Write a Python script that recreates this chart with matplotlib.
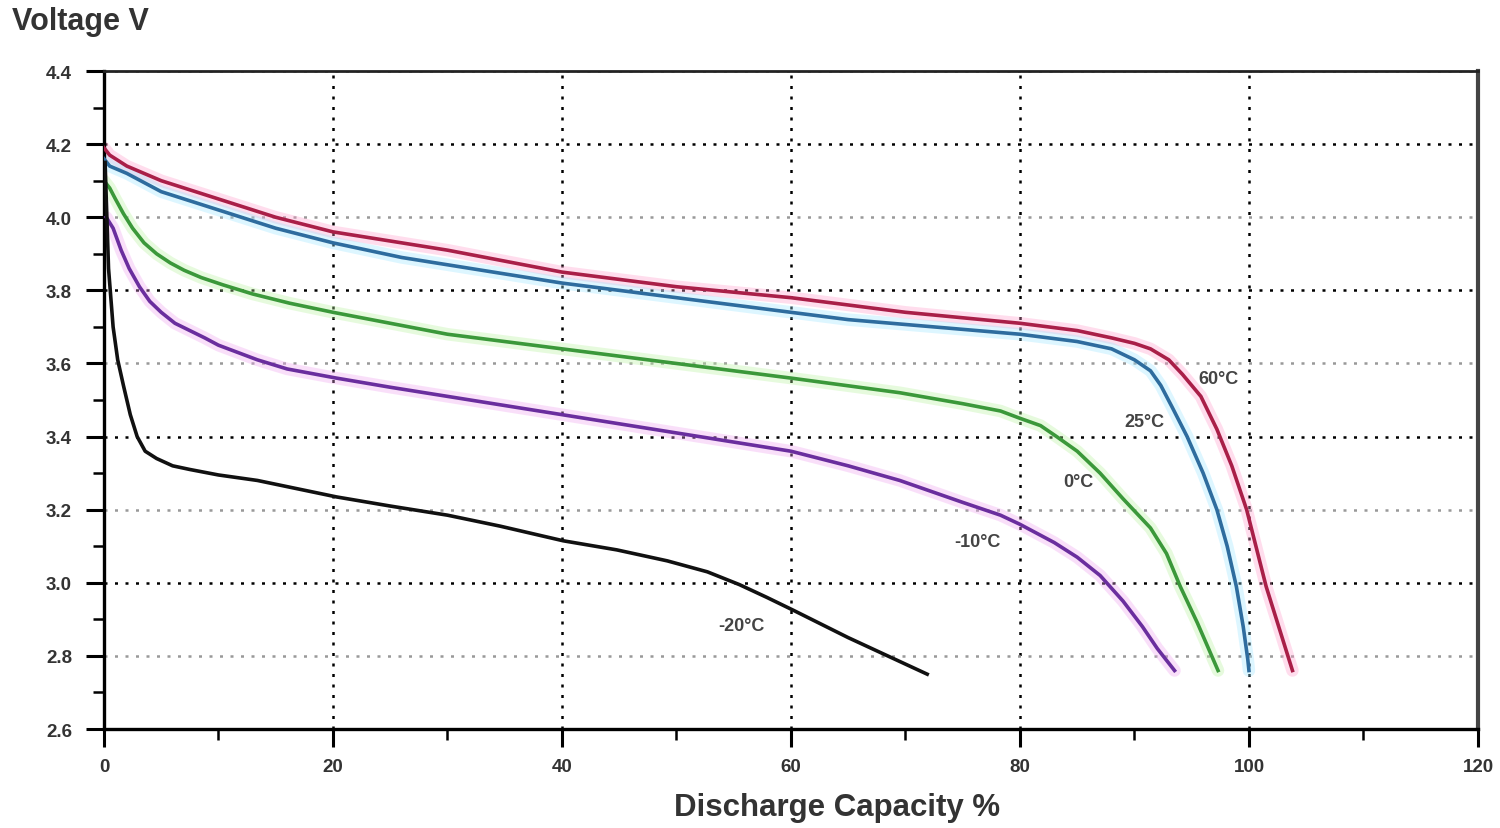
import matplotlib
matplotlib.use('Agg')
import matplotlib.pyplot as plt
from matplotlib.ticker import MultipleLocator, FormatStrFormatter

plt.rcParams['font.family'] = ['Liberation Sans', 'DejaVu Sans']
plt.rcParams['font.weight'] = 'bold'

# discharge curves: capacity %, voltage V
x_60 = [0, 0.5, 2, 5, 10, 15, 20, 26, 30, 40, 50, 60, 65, 70, 80, 85, 88, 90, 91.4, 93,
        94.2, 95.8, 97.2, 98.5, 99.8, 101.5, 103.8]
v_60 = [4.19, 4.17, 4.14, 4.10, 4.05, 4.00, 3.96, 3.93, 3.91, 3.85, 3.81, 3.78, 3.76, 3.74,
        3.71, 3.69, 3.67, 3.655, 3.64, 3.61, 3.57, 3.51, 3.42, 3.32, 3.20, 2.99, 2.76]

x_25 = [0, 0.5, 2, 5, 10, 15, 20, 26, 40, 50, 60, 65, 80, 85, 88, 90, 91.4, 92.3, 93.3,
        94.6, 96, 97.2, 98.1, 98.9, 99.5, 99.9, 100]
v_25 = [4.16, 4.14, 4.12, 4.07, 4.02, 3.97, 3.93, 3.89, 3.82, 3.78, 3.74, 3.72, 3.68, 3.66,
        3.64, 3.61, 3.58, 3.54, 3.48, 3.40, 3.30, 3.20, 3.10, 2.99, 2.88, 2.79, 2.76]

x_0 = [0, 0.5, 1, 1.7, 2.5, 3.5, 4.6, 5.8, 7, 8.5, 10.4, 13, 16.2, 20, 25, 30, 40, 50, 60,
       69.5, 75, 78.3, 80, 81.8, 83.2, 85, 87, 89, 91.4, 92.8, 94, 95.5, 97.3]
v_0 = [4.10, 4.08, 4.05, 4.01, 3.97, 3.93, 3.90, 3.875, 3.855, 3.835, 3.815, 3.79, 3.765,
       3.74, 3.71, 3.68, 3.64, 3.60, 3.56, 3.52, 3.49, 3.47, 3.45, 3.43, 3.40, 3.36, 3.30,
       3.23, 3.15, 3.08, 2.99, 2.89, 2.76]

x_m10 = [0.2, 0.8, 1.5, 2.2, 3.1, 4, 5, 6.2, 7.5, 8.8, 10, 11.7, 13.4, 16, 20.3, 25, 30, 40,
         50, 60, 65, 69.5, 75, 78.3, 80, 83, 85, 87, 89, 90.7, 92, 93.5]
v_m10 = [4.00, 3.97, 3.91, 3.86, 3.81, 3.77, 3.74, 3.71, 3.69, 3.67, 3.65, 3.63, 3.61,
         3.585, 3.56, 3.535, 3.51, 3.46, 3.41, 3.36, 3.32, 3.28, 3.22, 3.185, 3.16, 3.11,
         3.07, 3.02, 2.95, 2.88, 2.82, 2.76]

x_m20 = [0.1, 0.4, 0.8, 1.2, 1.7, 2.3, 2.9, 3.6, 4.6, 6, 7.5, 10, 13.4, 20.3, 25, 30, 34.6,
         40.1, 44.8, 49.2, 52.7, 55.5, 57.9, 60.2, 65, 71.9]
v_m20 = [4.15, 3.86, 3.70, 3.61, 3.54, 3.46, 3.40, 3.36, 3.34, 3.32, 3.31, 3.295, 3.28, 3.235,
         3.21, 3.185, 3.155, 3.115, 3.09, 3.06, 3.03, 2.995, 2.96, 2.925, 2.85, 2.75]

labels = ['60°C', '25°C', '0°C', '-10°C', '-20°C']
series = [(x_60, v_60), (x_25, v_25), (x_0, v_0), (x_m10, v_m10), (x_m20, v_m20)]

colors = ['#a91f48', '#2e6c9e', '#3b983a', '#6a2e9e', '#111111']
halos = ['#ff9fcc', '#9fe6ff', '#b9f2a0', '#f0a6f0', None]
label_pos = [(97.3, 3.558), (90.9, 3.44), (85.1, 3.276), (76.3, 3.114), (55.7, 2.882)]

fig = plt.figure(figsize=(15, 8.29), dpi=100)
ax = fig.add_axes([0.0693, 0.1194, 0.9160, 0.7937])

for (xs, vs), c, h in zip(series, colors, halos):
    if h:
        ax.plot(xs, vs, color=h, lw=9, alpha=0.35, solid_capstyle='round',
                solid_joinstyle='round', zorder=2)
    ax.plot(xs, vs, color=c, lw=2.6, solid_joinstyle='round', zorder=3)

for text, (lx, ly) in zip(labels, label_pos):
    ax.text(lx, ly, text, fontsize=13, fontweight='bold', color='#444444',
            ha='center', va='center', zorder=4)

ax.set_xlim(0, 120)
ax.set_ylim(2.6, 4.4)
ax.xaxis.set_major_locator(MultipleLocator(20))
ax.xaxis.set_minor_locator(MultipleLocator(10))
ax.yaxis.set_major_locator(MultipleLocator(0.2))
ax.yaxis.set_minor_locator(MultipleLocator(0.1))
ax.yaxis.set_major_formatter(FormatStrFormatter('%.1f'))

ax.grid(True, which='major', ls=(0, (1.2, 3)), lw=1.8, color='black')
# every other horizontal line is lighter (4.2, 3.8, 3.4, 3.0 dark)
for val, gl in zip(ax.get_yticks(), ax.yaxis.get_gridlines()):
    gl.set_color('black' if round(val * 10) % 4 == 2 else '#999999')

ax.tick_params(which='major', direction='out', length=13, width=2.2, color='black',
               labelsize=13.5, labelcolor='#333333')
ax.tick_params(which='minor', direction='out', length=8, width=1.8, color='black')
ax.tick_params(axis='y', which='major', pad=10)
ax.tick_params(axis='x', which='major', pad=8)

for side in ['left', 'bottom']:
    ax.spines[side].set_linewidth(2.4)
    ax.spines[side].set_color('black')
ax.spines['top'].set_linewidth(2)
ax.spines['top'].set_color('#222222')
ax.spines['right'].set_linewidth(3)
ax.spines['right'].set_color('#444444')

fig.text(0.008, 1 - 22 / 829, 'Voltage V', fontsize=22, fontweight='bold',
         color='#333333', ha='left', va='center')
fig.text(0.558, 1 - 808 / 829, 'Discharge Capacity %', fontsize=22.5, fontweight='bold',
         color='#333333', ha='center', va='center')

fig.savefig('out.png', dpi=100)
